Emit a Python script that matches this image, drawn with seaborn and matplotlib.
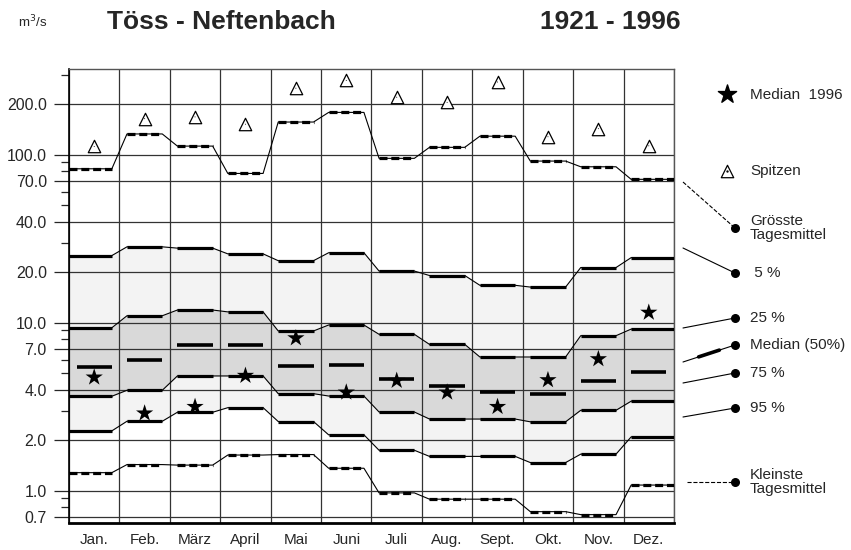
import numpy as np
import matplotlib
matplotlib.use('Agg')
import matplotlib.pyplot as plt
import matplotlib.ticker as mticker
import seaborn as sns

# ─── Données ─────────────────────────────────────────────────────────────────
months = ['Jan.', 'Feb.', 'März', 'April', 'Mai', 'Juni',
          'Juli', 'Aug.', 'Sept.', 'Okt.', 'Nov.', 'Dez.']
spitzen = [112, 164, 168, 152, 249, 277, 220, 205, 271, 128, 143, 113]
groesste = [82.5, 133, 112.6, 77.4, 156.6, 178.7, 95.2, 110.7, 129, 91.7, 84.8, 71.4]
p05 = [25.1, 28.3, 27.8, 25.7, 23.4, 26.1, 20.3, 19.1, 16.7, 16.3, 21.3, 24.4]
p25 = [9.33, 11.0, 11.9, 11.6, 8.93, 9.69, 8.53, 7.43, 6.25, 6.25, 8.37, 9.16]
p50 = [5.44, 5.97, 7.33, 7.33, 5.49, 5.57, 4.62, 4.18, 3.87, 3.77, 4.48, 5.11]
p75 = [3.65, 3.96, 4.82, 4.82, 3.78, 3.66, 2.94, 2.67, 2.67, 2.57, 3.01, 3.41]
p95 = [2.27, 2.59, 2.93, 3.12, 2.58, 2.15, 1.74, 1.60, 1.60, 1.47, 1.65, 2.09]
kleinste = [1.28, 1.43, 1.42, 1.63, 1.64, 1.36, 0.97, 0.89, 0.89, 0.75, 0.72, 1.08]
median_1996 = [4.73, 2.89, 3.16, 4.84, 8.1, 3.85, 4.52, 3.85, 3.16, 4.56, 6.08, 11.5]

major_ticks = [0.7, 1, 2, 4, 7, 10, 20, 40, 70, 100, 200]
minor_ticks = [0.8, 0.9, 3, 5, 6, 8, 9, 30, 50, 60, 80, 90, 300]

LIGHT = '#f3f3f3'
DARK = '#d9d9d9'
HALF = 0.35
idx = np.arange(len(months))

sns.set_style('white')
plt.rcParams['font.family'] = ['Liberation Sans', 'DejaVu Sans']


def step_path(vals):
    """Palier par mois + raccord oblique entre mois."""
    xs, ys = [], []
    n = len(vals)
    for i, v in enumerate(vals):
        xs += [-0.5 if i == 0 else i - HALF, n - 0.5 if i == n - 1 else i + HALF]
        ys += [v, v]
    return np.array(xs), np.array(ys)


fig = plt.figure(figsize=(8.51, 5.5), dpi=100)
ax = fig.add_axes([69 / 851, 27 / 550, 605 / 851, 454 / 550])

# bandes grisées
x5, y5 = step_path(p05)
x95, y95 = step_path(p95)
x25, y25 = step_path(p25)
x75, y75 = step_path(p75)
ax.fill_between(x5, y5, y95, color=LIGHT, lw=0, zorder=0.3)
ax.fill_between(x25, y25, y75, color=DARK, lw=0, zorder=0.4)

# lignes (fines + paliers épais)
for vals, dashed in [(groesste, True), (p05, False), (p25, False),
                     (p75, False), (p95, False), (kleinste, True)]:
    xs, ys = step_path(vals)
    sns.lineplot(x=xs, y=ys, ax=ax, color='black', lw=0.8,
                 estimator=None, sort=False, zorder=3)
    ax.hlines(vals, xs[0::2], xs[1::2], colors='black', lw=2.3, zorder=4,
              linestyles=(0, (2.5, 1.2)) if dashed else 'solid')

# médiane (50 %)
ax.hlines(p50, idx - HALF, idx + HALF, colors='black', lw=2.6, zorder=4)

# marqueurs
sns.scatterplot(x=idx, y=spitzen, ax=ax, marker='^', s=80, color='white',
                edgecolor='black', linewidth=0.9, zorder=5)
sns.scatterplot(x=idx, y=spitzen, ax=ax, marker='.', s=2, color='black',
                edgecolor='none', zorder=6)
sns.scatterplot(x=idx, y=median_1996, ax=ax, marker='*', s=170, color='black',
                edgecolor='none', zorder=6)

# axes
ax.set_yscale('log')
ax.set_ylim(0.642, 324)
ax.set_xlim(-0.5, len(months) - 0.5)
ax.yaxis.set_major_locator(mticker.FixedLocator(major_ticks))
ax.yaxis.set_minor_locator(mticker.FixedLocator(minor_ticks))
ax.yaxis.set_major_formatter(mticker.FuncFormatter(lambda v, p: f'{v:.1f}'))
ax.yaxis.set_minor_formatter(mticker.NullFormatter())
ax.set_xticks(idx)
ax.set_xticklabels(months)
ax.set_xticks(np.arange(-0.5, len(months)), minor=True)
ax.tick_params(axis='y', which='major', direction='out', length=11, width=0.9,
               labelsize=11.5, pad=5, left=True)
ax.tick_params(axis='y', which='minor', direction='out', length=6, width=0.9, left=True)
ax.tick_params(axis='x', which='both', length=0, labelsize=11, pad=7)
ax.set_axisbelow('line')
ax.grid(axis='y', which='major', color='#333333', lw=0.9)
ax.grid(axis='x', which='minor', color='#333333', lw=0.9)
ax.set_xlabel('')
ax.set_ylabel('')
ax.spines['left'].set_color('black')
ax.spines['left'].set_linewidth(1.2)
ax.spines['bottom'].set_color('black')
ax.spines['bottom'].set_linewidth(2)
for s in ['top', 'right']:
    ax.spines[s].set_color('#555555')
    ax.spines[s].set_linewidth(1)

# titres
fig.text(18 / 851, 1 - 22 / 550, 'm$^3$/s', fontsize=9.5, va='center', ha='left')
fig.text(107 / 851, 1 - 22 / 550, 'Töss - Neftenbach', fontsize=19,
         fontweight='bold', va='center', ha='left')
fig.text(540 / 851, 1 - 22 / 550, '1921 - 1996', fontsize=19,
         fontweight='bold', va='center', ha='left')

# légende (coordonnées pixel)
lg = fig.add_axes([0, 0, 1, 1], zorder=10)
lg.set_xlim(0, 851)
lg.set_ylim(550, 0)
lg.axis('off')
lg.scatter([727], [94], marker='*', s=190, color='black')
lg.text(750, 95, 'Median  1996', fontsize=11, va='center')
lg.scatter([727], [171], marker='^', s=80, color='white', edgecolor='black', linewidth=0.9)
lg.scatter([727], [171], marker='.', s=2, color='black')
lg.text(750, 171, 'Spitzen', fontsize=11, va='center')

leg_items = [
    ((683, 182), (735, 228), 'Grösste\nTagesmittel', '--'),
    ((683, 248), (735, 273), ' 5 %', '-'),
    ((683, 328), (735, 318), '25 %', '-'),
    ((683, 362), (735, 345), 'Median (50%)', '-'),
    ((683, 383), (735, 373), '75 %', '-'),
    ((683, 417), (735, 408), '95 %', '-'),
    ((687, 482), (735, 482), 'Kleinste\nTagesmittel', '--'),
]
for (xa, ya), (xb, yb), label, ls in leg_items:
    lg.plot([xa, xb], [ya, yb], color='black', lw=0.8, ls=ls)
    lg.scatter([xb], [yb], s=30, color='black')
    lg.text(750, yb, label, fontsize=11, va='center', linespacing=1.0)
    if label.startswith('Median'):
        t0, t1 = 0.3, 0.7
        lg.plot([xa + t0 * (xb - xa), xa + t1 * (xb - xa)],
                [ya + t0 * (yb - ya), ya + t1 * (yb - ya)], color='black', lw=2.6)

fig.savefig('out.png', dpi=100)
plt.close(fig)
